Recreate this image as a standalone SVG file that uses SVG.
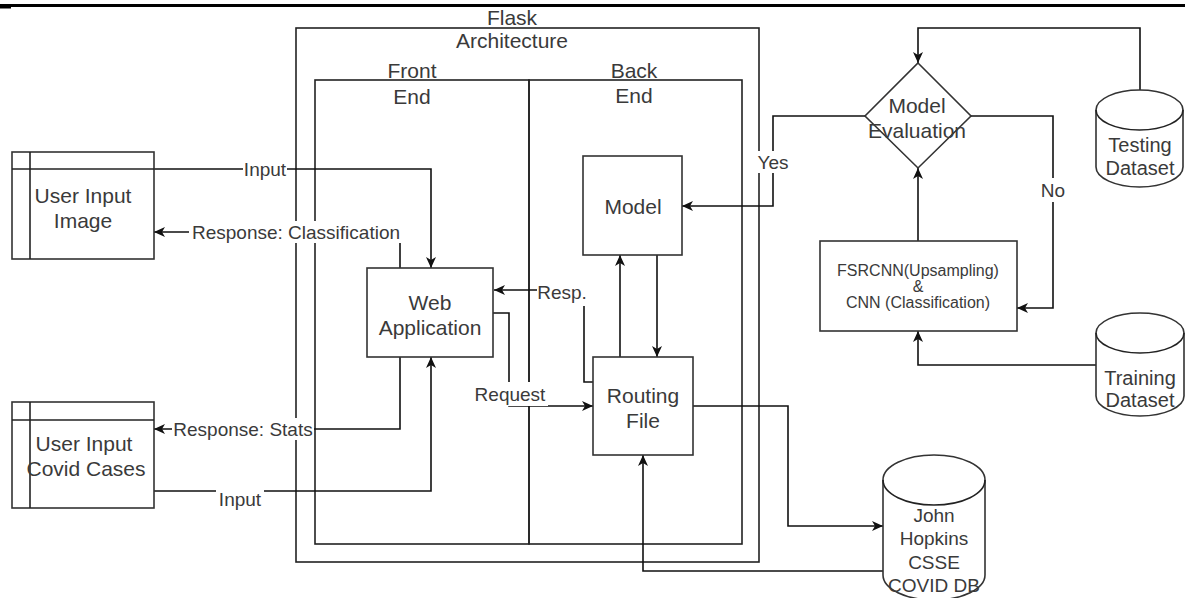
<svg xmlns="http://www.w3.org/2000/svg" width="1185" height="598" viewBox="0 0 1185 598">
<defs>
<style>
.box{fill:#fff;stroke:#333;stroke-width:1.6}
.cont{fill:none;stroke:#222;stroke-width:1.6}
.ln{fill:none;stroke:#222;stroke-width:1.6}
.edge{fill:none;stroke:#111;stroke-width:1.6}
.t{font-family:"Liberation Sans",Arial,sans-serif;font-size:21px;fill:#3a3a3a;text-anchor:middle;dominant-baseline:central}
.el{font-family:"Liberation Sans",Arial,sans-serif;font-size:19px;fill:#3a3a3a;text-anchor:middle;dominant-baseline:central}
.sm{font-family:"Liberation Sans",Arial,sans-serif;font-size:16px;fill:#3a3a3a;text-anchor:middle;dominant-baseline:central}
.lbg{fill:#fff}
</style>
<marker id="arr" markerWidth="12" markerHeight="10" refX="11" refY="5" orient="auto" markerUnits="userSpaceOnUse">
<path d="M0,0 L11,5 L0,10 L3,5 Z" fill="#111"/>
</marker>
</defs>
<rect width="1185" height="598" fill="#fff"/>
<rect x="0" y="4" width="1185" height="3" fill="#000"/>
<rect x="0" y="7" width="11" height="1.5" fill="#000"/>

<g id="flask">
<rect class="cont" x="296" y="28" width="463" height="534"/>
<text class="t" x="512" y="17">Flask</text>
<text class="t" x="512" y="40">Architecture</text>
</g>
<g id="front-end">
<rect class="cont" x="315" y="80" width="214" height="464"/>
<text class="t" x="412" y="70">Front</text>
<text class="t" x="412" y="96">End</text>
</g>
<g id="back-end">
<rect class="cont" x="529" y="80" width="213" height="464"/>
<text class="t" x="634" y="70">Back</text>
<text class="t" x="634" y="95">End</text>
</g>

<g id="connectors">
<path class="edge" d="M154,169 H431 V268" marker-end="url(#arr)"/>
<path class="edge" d="M400,268 V232 H154" marker-end="url(#arr)"/>
<path class="edge" d="M400,357 V429 H154" marker-end="url(#arr)"/>
<path class="edge" d="M154,491 H431 V357" marker-end="url(#arr)"/>
<path class="edge" d="M493,313 H509 V406 H593" marker-end="url(#arr)"/>
<path class="edge" d="M593,382 H584 V290 H494" marker-end="url(#arr)"/>
<path class="edge" d="M620,357 V255" marker-end="url(#arr)"/>
<path class="edge" d="M657,255 V357" marker-end="url(#arr)"/>
<path class="edge" d="M865,116 H773 V206 H682" marker-end="url(#arr)"/>
<path class="edge" d="M971,116 H1053 V308 H1017" marker-end="url(#arr)"/>
<path class="edge" d="M918,241 V168" marker-end="url(#arr)"/>
<path class="edge" d="M1140,90 V28 H918 V63" marker-end="url(#arr)"/>
<path class="edge" d="M1096,365 H918 V331" marker-end="url(#arr)"/>
<path class="edge" d="M693,406 H788 V526 H883" marker-end="url(#arr)"/>
<path class="edge" d="M883,571 H643 V455" marker-end="url(#arr)"/>
<g id="edge-labels">
<rect class="lbg" x="243" y="159" width="44" height="20"/>
<text class="el" x="265" y="169">Input</text>
<rect class="lbg" x="189" y="221" width="214" height="22"/>
<text class="el" x="296" y="232">Response: Classification</text>
<rect class="lbg" x="172" y="418" width="142" height="22"/>
<text class="el" x="243" y="429">Response: Stats</text>
<rect class="lbg" x="216" y="487" width="48" height="24"/>
<text class="el" x="240" y="499">Input</text>
<rect class="lbg" x="473" y="382" width="75" height="24"/>
<text class="el" x="510" y="394">Request</text>
<rect class="lbg" x="537" y="281" width="52" height="25"/>
<text class="el" x="562" y="292">Resp.</text>
<rect class="lbg" x="755" y="151" width="36" height="22"/>
<text class="el" x="773" y="162">Yes</text>
<rect class="lbg" x="1040" y="178" width="26" height="24"/>
<text class="el" x="1053" y="190">No</text>
</g>
</g>

<g id="user-input-image">
<rect class="box" x="12" y="152" width="142" height="107"/>
<line class="ln" x1="30" y1="152" x2="30" y2="259"/>
<line class="ln" x1="12" y1="169" x2="154" y2="169"/>
<text class="t" x="83" y="195">User Input</text>
<text class="t" x="83" y="220">Image</text>
</g>
<g id="user-input-covid">
<rect class="box" x="12" y="402" width="142" height="106"/>
<line class="ln" x1="30" y1="402" x2="30" y2="508"/>
<line class="ln" x1="12" y1="420" x2="154" y2="420"/>
<text class="t" x="84" y="443">User Input</text>
<text class="t" x="86" y="468">Covid Cases</text>
</g>
<g id="web-application">
<rect class="box" x="367" y="268" width="126" height="89"/>
<text class="t" x="430" y="302">Web</text>
<text class="t" x="430" y="327">Application</text>
</g>
<g id="model">
<rect class="box" x="583" y="156" width="99" height="99"/>
<text class="t" x="633" y="206">Model</text>
</g>
<g id="routing-file">
<rect class="box" x="593" y="357" width="100" height="98"/>
<text class="t" x="643" y="395">Routing</text>
<text class="t" x="643" y="420">File</text>
</g>
<g id="model-evaluation">
<path class="box" d="M918,63 L971,116 L918,168 L865,116 Z"/>
<text class="t" x="917" y="105">Model</text>
<text class="t" x="917" y="130">Evaluation</text>
</g>
<g id="fsrcnn-cnn">
<rect class="box" x="820" y="241" width="197" height="90"/>
<text class="sm" x="918" y="270">FSRCNN(Upsampling)</text>
<text class="sm" x="918" y="286">&amp;</text>
<text class="sm" x="918" y="302">CNN (Classification)</text>
</g>
<g id="testing-dataset">
<path class="box" d="M1096,110 A43.5,20 0 0 1 1183,110 V167 A43.5,20 0 0 1 1096,167 Z"/>
<path class="ln" d="M1096,110 A43.5,20 0 0 0 1183,110"/>
<text class="t" x="1140" y="145" style="font-size:20px">Testing</text>
<text class="t" x="1140" y="168" style="font-size:20px">Dataset</text>
</g>
<g id="training-dataset">
<path class="box" d="M1096,333 A44,20 0 0 1 1184,333 V396 A44,20 0 0 1 1096,396 Z"/>
<path class="ln" d="M1096,333 A44,20 0 0 0 1184,333"/>
<text class="t" x="1140" y="378" style="font-size:20px">Training</text>
<text class="t" x="1140" y="400" style="font-size:20px">Dataset</text>
</g>
<g id="john-hopkins-db">
<path class="box" d="M883,480 A51,25 0 0 1 985,480 V575 A51,25 0 0 1 883,575 Z"/>
<path class="ln" d="M883,480 A51,25 0 0 0 985,480"/>
<text class="el" x="934" y="515">John</text>
<text class="el" x="934" y="538">Hopkins</text>
<text class="el" x="934" y="562">CSSE</text>
<text class="el" x="934" y="585">COVID DB</text>
</g>
</svg>
